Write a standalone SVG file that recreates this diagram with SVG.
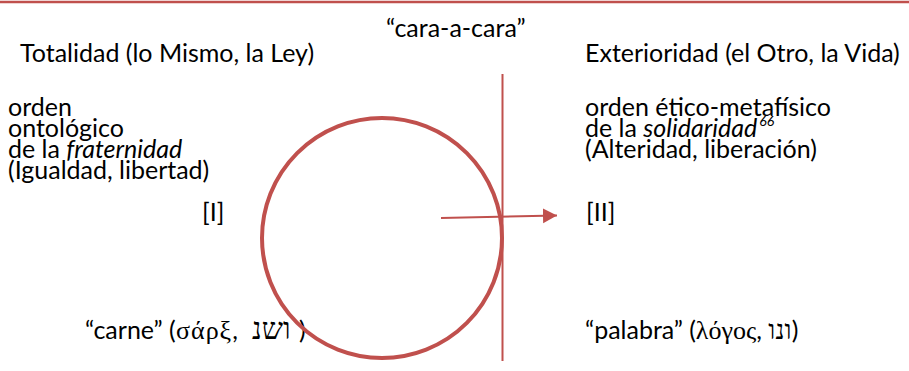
<svg xmlns="http://www.w3.org/2000/svg" width="909" height="371" viewBox="0 0 909 371">
<style>
text{font-family:Lato,"Open Sans",sans-serif;font-size:25px;fill:#000}
.it{font-style:italic}
.gr{font-family:"Liberation Serif","DejaVu Serif",serif;font-size:26px}
.he{font-family:"Liberation Serif","DejaVu Serif",serif;font-size:28px}
.sup{font-size:14px;font-style:italic}
.red{stroke:#c0504d;fill:none}
</style>
<defs>
<marker id="ah" markerUnits="userSpaceOnUse" markerWidth="16" markerHeight="16" refX="14" refY="8" orient="auto">
<path d="M0,0.5 L14,8 L0,15.5 Z" fill="#c0504d"/>
</marker>
</defs>
<line x1="0" y1="2" x2="909" y2="2" class="red" stroke-width="2.5"/>
<g id="cara">
<text x="386" y="37">“cara-a-cara”</text>
</g>
<g id="totalidad">
<text x="20" y="62">Totalidad (lo Mismo, la Ley)</text>
<text x="8" y="116">orden</text>
<text x="8" y="137">ontológico</text>
<text x="8" y="158">de la <tspan class="it">fraternidad</tspan></text>
<text x="8" y="179">(Igualdad, libertad)</text>
<text x="202" y="221">[I]</text>
<text x="85" y="339">“carne” (<tspan class="gr" x="176" style="letter-spacing:1px">σάρξ</tspan>, <tspan class="he" x="252" style="font-size:30px">ושנ</tspan><tspan x="299">)</tspan></text>
</g>
<g id="exterioridad">
<text x="585" y="62">Exterioridad (el Otro, la Vida)</text>
<text x="585" y="116">orden ético-metafísico</text>
<text x="585" y="137">de la <tspan class="it">solidaridad</tspan><tspan class="sup" dx="2" dy="-11">66</tspan></text>
<text x="585" y="158">(Alteridad, liberación)</text>
<text x="586" y="221">[II]</text>
<text x="585" y="339">“palabra” (<tspan class="gr">λόγος</tspan>, <tspan class="he">ונו</tspan>)</text>
</g>
<g id="circle">
<circle cx="382" cy="238" r="120" class="red" stroke-width="4"/>
</g>
<g id="divider">
<line x1="502.5" y1="74" x2="502.5" y2="361" class="red" stroke-width="2"/>
</g>
<g id="connectors">
<line x1="441" y1="218" x2="557" y2="215.5" class="red" stroke-width="2" marker-end="url(#ah)"/>
</g>
</svg>
